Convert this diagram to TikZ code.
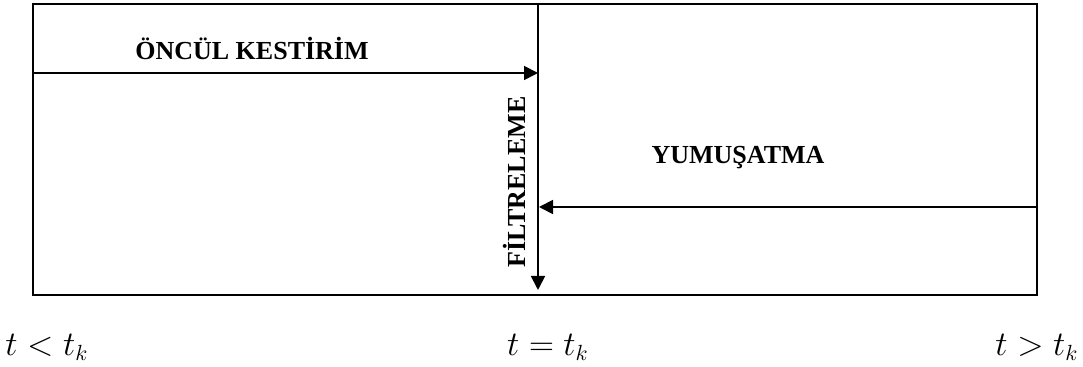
\documentclass[tikz,border=0pt]{standalone}
\usepackage{fontspec}
\setmainfont{Liberation Serif}
\usetikzlibrary{arrows.meta}
\tikzstyle{frame} = [
    line width=0.75pt,
    draw=black
]
\tikzstyle{phase} = [
    font=\fontsize{13}{15}\selectfont\bfseries,
    inner sep=0pt
]
\tikzstyle{timelabel} = [
    font=\fontsize{16}{18}\selectfont,
    inner sep=0pt
]
\tikzstyle{arrow} = [line width=0.9pt,-{Triangle[length=7pt,width=7pt]}]

\begin{document}
\begin{tikzpicture}[x=0.5pt,y=-0.5pt]

\useasboundingbox (0,0) rectangle (1083,367);

\draw [frame] (33,4) rectangle (1037,295);

\coordinate (top) at (538,4);
\coordinate (bottom) at (538,290);
\coordinate (leftin) at (33,73);
\coordinate (prediction) at (538,73);
\coordinate (rightin) at (1037,207);
\coordinate (smoothing) at (539,207);

\node (predlabel) [phase] at (252,48) {ÖNCÜL KESTİRİM};
\node (smoothlabel) [phase] at (738,158) {YUMUŞATMA};
\node (filterlabel) [phase, rotate=90] at (514,182) {FİLTRELEME};

\node (before) [timelabel] at (47,347) {$t<t_k$};
\node (now) [timelabel] at (548,347) {$t=t_k$};
\node (after) [timelabel] at (1037,347) {$t>t_k$};

\draw [arrow] (top) -- (bottom);
\draw [arrow] (leftin) -- (prediction);
\draw [arrow] (rightin) -- (smoothing);

\end{tikzpicture}
\end{document}
